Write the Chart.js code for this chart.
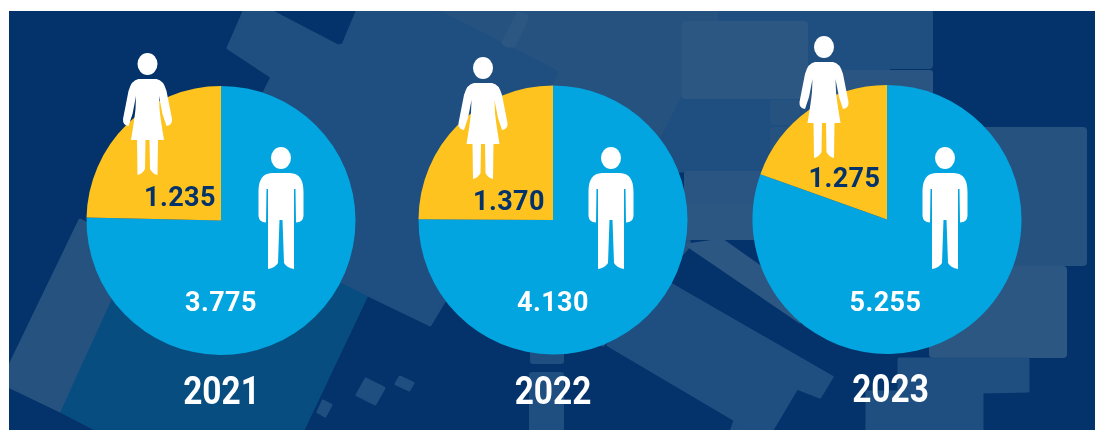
<!DOCTYPE html>
<html lang="en">
<head>
    <meta charset="UTF-8">
    <title>Men and women 2021-2023</title>
    <script src="https://cdn.jsdelivr.net/npm/chart.js"></script>
    <style>
        html, body { margin: 0; padding: 0; background: #fff; overflow: hidden; }
        #stage { position: relative; width: 1095px; height: 430px; overflow: hidden; }
        #stage svg { position: absolute; left: 0; top: 0; }
        #stage canvas { position: absolute; top: 0; }
        .mid { fill: #1f4f80; stroke: #1f4f80; }
        .top { fill: #25527f; stroke: #25527f; }
        .soft { fill: #2a5582; stroke: #2a5582; }
        .pale { fill: #2d5783; stroke: #2d5783; }
        .teal { fill: #074d80; stroke: #074d80; }
        #back polygon { stroke-width: 3; stroke-linejoin: round; }
        #back rect { stroke: none; }
    </style>
</head>
<body>
<div id="stage">
    <!-- Decorative background shapes -->
    <svg id="back" width="1095" height="430">
        <defs>
            <clipPath id="panel"><rect x="9" y="11" width="1086" height="419"/></clipPath>
        </defs>
        <rect x="9" y="11" width="1086" height="419" fill="#04326a"/>
        <g clip-path="url(#panel)">
            <polygon class="top" points="80,220 10,365 10,387 60,411 125,280 100,230"/>
            <polygon class="teal" points="347,283 367,295 303,430 97,430 62,412 113,300"/>
            <polygon class="top" points="433,9 730,9 730,98 682,98 663,140 690,245 603,345 445,300 557,72"/>
            <rect class="mid" x="718" y="5" width="215" height="64" rx="4"/>
            <polygon class="mid" points="245,9 228,48 272,77 200,220 345,283 370,296 430,325 445,300 557,72 500,43 433,9 358,9 343,45 338,46 267,9"/>
            <polygon class="pale" points="507,46 503,43 518,13 527,16 526,22 514,46"/>
            <polygon class="pale" points="722,240 800,295 800,322 687,245"/>
            <polygon class="mid" points="660,278 832,377 820,397 797,388 772,430 731,432 735,420 608,345"/>
            <rect class="mid" x="760" y="69" width="130" height="110"/>
            <polygon class="mid" points="682,99 770,99 770,171 664,171 662,138"/>
            <rect class="pale" x="682" y="21" width="126" height="78" rx="4"/>
            <rect class="soft" x="808" y="70" width="125" height="32" rx="3"/>
            <rect class="top" x="770" y="100" width="30" height="25" rx="3"/>
            <rect class="top" x="770" y="127" width="42" height="44" rx="3"/>
            <rect class="soft" x="684" y="171" width="86" height="37" rx="3"/>
            <rect class="pale" x="684" y="204" width="86" height="36" rx="3"/>
            <rect class="top" x="880" y="127" width="207" height="139" rx="4"/>
            <rect class="pale" x="929" y="266" width="138" height="92" rx="4"/>
            <polygon class="mid" points="899,359 1028,359 1028,391 982,392 982,432 867,432 867,392 899,392"/>
            <rect class="mid" x="530" y="345" width="34" height="19" rx="3"/>
            <rect class="mid" x="529" y="372" width="35" height="60" rx="3"/>
            <polygon class="mid" points="366,379 384,388 375,404 357,395"/>
            <polygon class="mid" points="400,377 413,383 409,390 396,384"/>
            <polygon class="mid" points="323,401 331,405 325,416 318,412"/>
        </g>
    </svg>

    <canvas id="pie2021"></canvas>
    <canvas id="pie2022"></canvas>
    <canvas id="pie2023"></canvas>

    <!-- Figures on top of the pies -->
    <svg width="1095" height="430">
        <defs>
            <g id="man" fill="#fff">
                <ellipse cx="0" cy="0" rx="10" ry="11"/>
                <path d="M0 15 L9 15 C18 15.5 22.5 21 22.5 34 L22.5 58 Q22 64 15 64.5 L14.5 31 L13 31 L13 111 Q6 110 3 105 L1.5 62 L-1.5 62 L-3 105 Q-6 110 -13 111 L-13 31 L-14.5 31 L-15 64.5 Q-22 64 -22.5 58 L-22.5 34 C-22.5 21 -18 15.5 -9 15 Z"/>
            </g>
            <g id="woman" fill="#fff">
                <ellipse cx="0" cy="0" rx="10" ry="11"/>
                <path d="M0 15 L9 15 Q16 16 19 27 L24.5 55 Q25 61 19 62 L15 50 L11.5 32 L12 45 Q13 55 16.5 76 L10.5 76 L10 111 Q5 110 2.5 105 L2 76 L-2 76 L-2.5 105 Q-5 110 -10 111 L-10.5 76 L-16.5 76 Q-13 55 -12 45 L-11.5 32 L-15 50 L-19 62 Q-25 61 -24.5 55 L-19 27 Q-16 16 -9 15 Z"/>
            </g>
        </defs>
        <use href="#woman" x="147.5" y="64"/>
        <use href="#man" x="281" y="158"/>
        <use href="#woman" x="483" y="68"/>
        <use href="#man" x="611" y="158"/>
        <use href="#woman" x="824" y="47"/>
        <use href="#man" x="945" y="158"/>
    </svg>
</div>

<script>
    const years = ['2021', '2022', '2023'];
    const men = [3775, 4130, 5255];
    const women = [1235, 1370, 1275];
    const categories = ['Men', 'Women'];

    const menLabels = ['3.775', '4.130', '5.255'];
    const womenLabels = ['1.235', '1.370', '1.275'];

    // Where each pie and its texts sit on the page
    const layouts = [
        { cx: 221, cy: 220.5, menX: 221, womenX: 180, womenY: 199, yearX: 221.5, yearY: 394 },
        { cx: 553, cy: 220, menX: 553, womenX: 509, womenY: 203, yearX: 553, yearY: 394 },
        { cx: 886.5, cy: 219.5, menX: 885, womenX: 844, womenY: 180, yearX: 890, yearY: 392 }
    ];
    const radius = 134.5;
    const canvasWidth = 330;
    const canvasHeight = 430;

    // Draws the two value labels and the year
    const textPlugin = {
        id: 'pieTexts',
        afterDraw(chart, args, opts) {
            const c = chart.ctx;
            const pos = opts.layout;
            const dx = pos.cx - canvasWidth / 2;
            c.save();
            c.textAlign = 'center';
            c.textBaseline = 'middle';
            c.font = 'bold 27px Roboto';
            c.letterSpacing = '0.4px';
            c.fillStyle = '#fff';
            c.fillText(opts.menText, pos.menX - dx, 304);
            c.fillStyle = '#04326a';
            c.fillText(opts.womenText, pos.womenX - dx, pos.womenY);
            c.letterSpacing = '0px';
            // The year is set in a condensed cut, Roboto squeezed sideways
            c.font = 'bold 38px Roboto';
            c.fillStyle = '#fff';
            c.translate(pos.yearX - dx, pos.yearY);
            c.scale(0.88, 1);
            c.fillText(opts.yearText, 0, 0);
            c.restore();
        }
    };

    years.forEach(function (year, i) {
        const pos = layouts[i];
        const canvas = document.getElementById('pie' + year);
        canvas.width = canvasWidth;
        canvas.height = canvasHeight;
        canvas.style.left = (pos.cx - canvasWidth / 2) + 'px';
        canvas.style.width = canvasWidth + 'px';
        canvas.style.height = canvasHeight + 'px';

        new Chart(canvas.getContext('2d'), {
            type: 'pie',
            data: {
                labels: categories,
                datasets: [{
                    data: [men[i], women[i]],
                    backgroundColor: ['#02a5df', '#fec31e'],
                    borderWidth: 0
                }]
            },
            options: {
                responsive: false,
                animation: false,
                layout: {
                    padding: {
                        left: canvasWidth / 2 - radius,
                        right: canvasWidth / 2 - radius,
                        top: pos.cy - radius,
                        bottom: canvasHeight - pos.cy - radius
                    }
                },
                plugins: {
                    legend: { display: false },
                    tooltip: { enabled: false },
                    pieTexts: {
                        layout: pos,
                        menText: menLabels[i],
                        womenText: womenLabels[i],
                        yearText: year
                    }
                }
            },
            plugins: [textPlugin]
        });
    });
</script>
</body>
</html>
